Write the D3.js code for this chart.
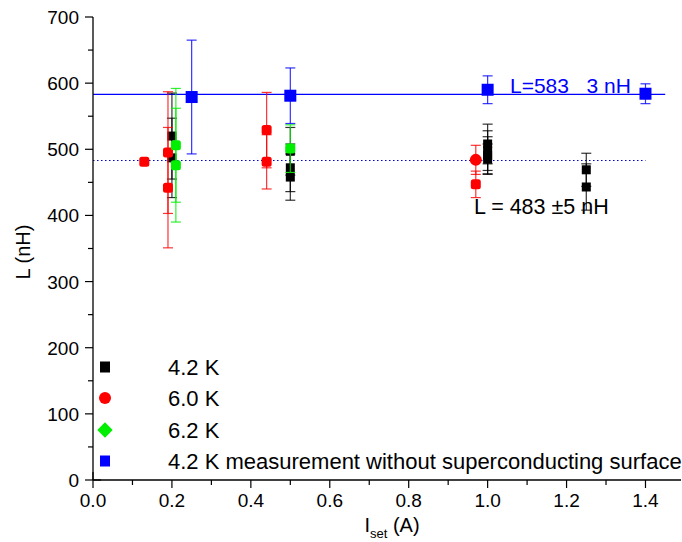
<!DOCTYPE html>
<html>
<head>
<meta charset="utf-8">
<script src="https://cdn.jsdelivr.net/npm/d3@7"></script>
<style>
  body { margin: 0; background: #fff; }
  svg { font-family: "Liberation Sans", Arial, sans-serif; }
</style>
</head>
<body>
<svg id="chart" width="682" height="542"></svg>
<script>
// 4.2 K
const blackX = [0.2, 0.2, 0.5, 0.5, 0.5, 1.0, 1.0, 1.0, 1.0, 1.25, 1.25];
const blackY = [520, 487, 497, 472, 458, 508, 498, 491, 485, 469, 443];
const blackErr = [65, 60, 36, 36, 35, 30, 30, 28, 23, 25, 35];
// 6.0 K
const redX = [0.13, 0.19, 0.19, 0.44, 0.44, 0.97, 0.97];
const redY = [481, 495, 442, 529, 481, 484, 447];
const redErr = [0, 92, 91, 57, 41, 22, 20];
// 6.2 K
const greenX = [0.21, 0.21, 0.5];
const greenY = [506, 476, 501];
const greenErr = [86, 86, 36];
// 4.2 K without superconducting surface
const blueX = [0.25, 0.5, 1.0, 1.4];
const blueY = [579, 581, 590, 584];
const blueErr = [86, 42, 21, 15];

const xTicks = [0, 0.2, 0.4, 0.6, 0.8, 1.0, 1.2, 1.4];
const yTicks = [0, 100, 200, 300, 400, 500, 600, 700];
const fitBlue = 583, fitBlack = 483;
const legendLabels = ["4.2 K", "6.0 K", "6.2 K", "4.2 K measurement without superconducting surface"];

const svg = d3.select("#chart");
const x = d3.scaleLinear().domain([0, 1.49]).range([93, 681]);
const y = d3.scaleLinear().domain([0, 700]).range([480, 17]);

function zip(xs, ys, es) {
  return xs.map((v, i) => ({x: v, y: ys[i], e: es[i]}));
}

const series = [
  {name: "black", color: "#000000", shape: "square", size: 9, pts: zip(blackX, blackY, blackErr)},
  {name: "red", color: "#ff0000", shape: "rsquare", size: 10, pts: zip(redX, redY, redErr)},
  {name: "green", color: "#00ee00", shape: "rsquare", size: 10, pts: zip(greenX, greenY, greenErr)},
  {name: "blue", color: "#0000ff", shape: "square", size: 12, pts: zip(blueX, blueY, blueErr)}
];

// fit lines
svg.append("line")
  .attr("x1", x(0)).attr("x2", x(1.45))
  .attr("y1", y(fitBlue)).attr("y2", y(fitBlue))
  .attr("stroke", "#0000ff").attr("stroke-width", 1.3);
svg.append("line")
  .attr("x1", x(0)).attr("x2", x(1.4))
  .attr("y1", y(fitBlack)).attr("y2", y(fitBlack))
  .attr("stroke", "#0000cc").attr("stroke-width", 1.1)
  .attr("stroke-dasharray", "1.5,2.5");

// error bars + markers
series.forEach(function(s) {
  let g = svg.append("g").attr("class", s.name);
  s.pts.filter(d => d.e > 0).forEach(function(d) {
    let cx = x(d.x);
    g.append("line")
      .attr("x1", cx).attr("x2", cx)
      .attr("y1", y(d.y + d.e)).attr("y2", y(d.y - d.e))
      .attr("stroke", s.color).attr("stroke-width", 1.2).attr("opacity", 0.8);
    [d.y + d.e, d.y - d.e].forEach(function(v) {
      g.append("line")
        .attr("x1", cx - 5).attr("x2", cx + 5)
        .attr("y1", y(v)).attr("y2", y(v))
        .attr("stroke", s.color).attr("stroke-width", 1.2).attr("opacity", 0.8);
    });
  });
  s.pts.forEach(function(d, i) {
    let cx = x(d.x), cy = y(d.y), h = s.size / 2;
    if (s.name === "red" && i === 5) {
      g.append("circle").attr("cx", cx).attr("cy", cy).attr("r", 6).attr("fill", s.color);
    } else {
      g.append("rect")
        .attr("x", cx - h).attr("y", cy - h)
        .attr("width", s.size).attr("height", s.size)
        .attr("rx", s.shape === "rsquare" ? 2.5 : 0)
        .attr("fill", s.color);
    }
  });
});

// axes
const xAxis = svg.append("g").attr("transform", "translate(0,480)");
xAxis.append("line").attr("x1", x(0)).attr("x2", 681).attr("y1", 0).attr("y2", 0)
  .attr("stroke", "#000").attr("stroke-width", 1.3);
d3.range(0, 15).forEach(function(i) {
  let v = i / 10, major = i % 2 === 0;
  xAxis.append("line").attr("x1", x(v)).attr("x2", x(v))
    .attr("y1", i === 0 ? -8 : 0).attr("y2", major ? 8 : 5)
    .attr("stroke", "#000").attr("stroke-width", 1.2);
});
xAxis.selectAll("text.tick").data(xTicks).enter().append("text")
  .attr("x", d => x(d)).attr("y", 27)
  .attr("text-anchor", "middle").attr("font-size", 19)
  .text(d => d3.format(".1f")(d));

const yAxis = svg.append("g").attr("transform", "translate(" + x(0) + ",0)");
yAxis.append("line").attr("x1", 0).attr("x2", 0).attr("y1", y(0)).attr("y2", y(700))
  .attr("stroke", "#000").attr("stroke-width", 1.3);
d3.range(0, 15).forEach(function(i) {
  let v = i * 50, major = i % 2 === 0;
  yAxis.append("line").attr("x1", major ? -8 : -5).attr("x2", i === 0 ? 8 : 0)
    .attr("y1", y(v)).attr("y2", y(v))
    .attr("stroke", "#000").attr("stroke-width", 1.2);
});
yAxis.selectAll("text.tick").data(yTicks).enter().append("text")
  .attr("x", -14).attr("y", d => y(d) + 7)
  .attr("text-anchor", "end").attr("font-size", 19)
  .text(d => d);

// axis titles
svg.append("text")
  .attr("transform", "translate(30,252) rotate(-90)")
  .attr("text-anchor", "middle").attr("font-size", 20)
  .text("L (nH)");
let xt = svg.append("text").attr("x", 392).attr("y", 532).attr("text-anchor", "middle").attr("font-size", 20);
xt.append("tspan").text("I");
xt.append("tspan").attr("font-size", 13).attr("dy", 6).text("set");
xt.append("tspan").attr("dy", -6).text(" (A)");

// annotations
svg.append("text").attr("x", 510).attr("y", 93)
  .attr("fill", "#0000ff").attr("font-size", 21)
  .attr("xml:space", "preserve").style("white-space", "pre")
  .text("L=583   3 nH");
svg.append("text").attr("x", 474).attr("y", 214)
  .attr("fill", "#000").attr("font-size", 21.5)
  .text("L = 483 \u00b15 nH");

// legend
const legend = svg.append("g");
const legendY = [367, 398, 430, 461];
legendLabels.forEach(function(lbl, i) {
  let cy = legendY[i], cx = 105, col = series[i].color;
  if (i === 1) {
    legend.append("circle").attr("cx", cx).attr("cy", cy).attr("r", 6).attr("fill", col);
  } else if (i === 2) {
    legend.append("path").attr("d", d3.symbol(d3.symbolDiamond2, 150)()).attr("transform", "translate(" + cx + "," + cy + ")").attr("fill", col);
  } else {
    legend.append("rect").attr("x", cx - 5).attr("y", cy - 5.5).attr("width", 10).attr("height", 11).attr("fill", col);
  }
  legend.append("text").attr("x", 168).attr("y", cy + 7.5).attr("font-size", 22).text(lbl);
});
</script>
</body>
</html>
